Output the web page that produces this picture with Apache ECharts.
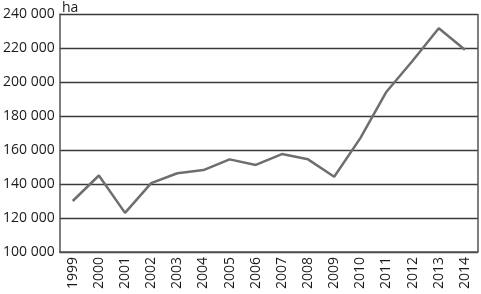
<!DOCTYPE html>
<html>
<head>
<meta charset="utf-8">
<script src="https://cdn.jsdelivr.net/npm/echarts@6/dist/echarts.min.js"></script>
<style>
  html, body { margin: 0; padding: 0; background: #fff; }
  #chart { width: 481px; height: 294px; }
</style>
</head>
<body>
<div id="chart"></div>
<script>
// categories and values
const years = ["1999", "2000", "2001", "2002", "2003", "2004", "2005", "2006",
  "2007", "2008", "2009", "2010", "2011", "2012", "2013", "2014"];
const area = [130000, 145000, 123000, 140500, 146300, 148200, 154500, 151200,
  157600, 154500, 144300, 167000, 194300, 212500, 231600, 219000];
const yTicks = [100000, 120000, 140000, 160000, 180000, 200000, 220000, 240000];

const chart = echarts.init(document.getElementById("chart"));

const fmt = v => String(v).replace(/\B(?=(\d{3})+(?!\d))/g, " ");

chart.setOption({
  animation: false,
  textStyle: { fontFamily: "Open Sans" },
  title: {
    text: "ha",
    left: 57,
    top: -4,
    textStyle: { fontSize: 14, fontWeight: "normal", color: "#1a1a1a", fontFamily: "Open Sans" }
  },
  grid: { left: 58, right: 3, top: 14, bottom: 42 },
  xAxis: {
    type: "category",
    data: years,
    boundaryGap: true,
    axisLine: { lineStyle: { color: "#555", width: 1.5 } },
    axisTick: { inside: true, length: 4, lineStyle: { color: "#555", width: 1.5 } },
    axisLabel: { rotate: 90, fontSize: 14, color: "#1a1a1a", margin: 5, interval: 0 }
  },
  yAxis: {
    type: "value",
    min: yTicks[0],
    max: yTicks[yTicks.length - 1],
    interval: 20000,
    axisLine: { show: true, lineStyle: { color: "#555", width: 1.5 } },
    axisTick: { show: false },
    axisLabel: { fontSize: 14, color: "#1a1a1a", margin: 5, formatter: fmt },
    splitLine: { lineStyle: { color: "#3a3a3a", width: 1.3 } }
  },
  series: [{
    type: "line",
    data: area,
    symbol: "none",
    lineStyle: { color: "#6e6e6e", width: 2.5 }
  }]
});
// right border of the plot
chart.setOption({
  graphic: [{
    type: "line",
    shape: { x1: 478, y1: 14, x2: 478, y2: 252 },
    style: { stroke: "#555", lineWidth: 1.5 }
  }]
});
</script>
</body>
</html>
